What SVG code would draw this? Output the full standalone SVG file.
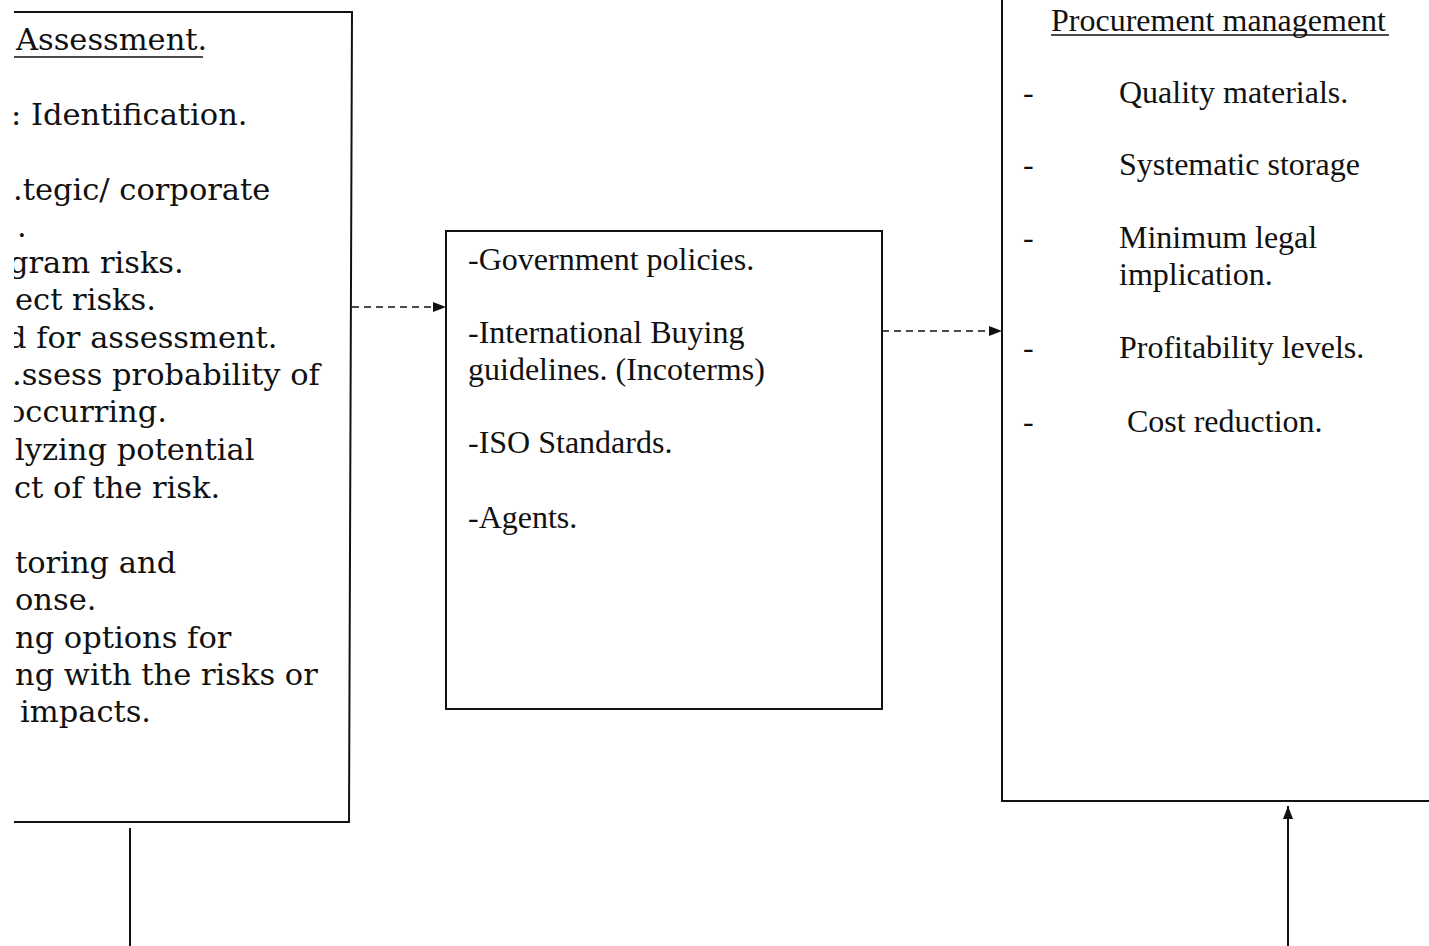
<svg xmlns="http://www.w3.org/2000/svg" width="1429" height="946" viewBox="0 0 1429 946">
<style>
.box{fill:none;stroke:#111;stroke-width:2}
.lt{font-family:"DejaVu Serif","Liberation Serif",serif;font-size:30.5px;fill:#111}
.tt{font-family:"Liberation Serif","Times New Roman",serif;font-size:32px;fill:#111}
.conn{fill:none;stroke:#111;stroke-width:2}
.dash{stroke-width:1.6;stroke-dasharray:7 5}
</style>
<defs>
<marker id="ah" viewBox="0 0 13 10" refX="13" refY="5" markerWidth="13" markerHeight="10" markerUnits="userSpaceOnUse" orient="auto">
<path d="M0,0 L13,5 L0,10 Z" fill="#111"/>
</marker>
<clipPath id="clipL"><rect x="14" y="0" width="340" height="830"/></clipPath>
</defs>
<rect width="1429" height="946" fill="#fff"/>
<g id="risk-assessment">
<path class="box" d="M14,12 H352 L349,822 H14"/>
<g clip-path="url(#clipL)" class="lt">
<text x="16" y="50">Assessment.</text>
<line x1="14" y1="57" x2="203" y2="57" stroke="#111" stroke-width="1.5"/>
<text x="11" y="125">: Identification.</text>
<text x="13" y="200">.tegic/ corporate</text>
<text x="17" y="237">.</text>
<text x="9" y="273">gram risks.</text>
<text x="15" y="310">ect risks.</text>
<text x="7" y="348">d for assessment.</text>
<text x="12" y="385">.ssess probability of</text>
<text x="7" y="422">occurring.</text>
<text x="15" y="460">lyzing potential</text>
<text x="14" y="498">ct of the risk.</text>
<text x="15" y="573">toring and</text>
<text x="15" y="610">onse.</text>
<text x="15" y="648">ng options for</text>
<text x="15" y="685">ng with the risks or</text>
<text x="20" y="722">impacts.</text>
</g>
</g>
<g id="external-factors">
<rect class="box" x="446" y="231" width="436" height="478"/>
<g class="tt">
<text x="468" y="270">-Government policies.</text>
<text x="468" y="343">-International Buying</text>
<text x="468" y="380">guidelines. (Incoterms)</text>
<text x="468" y="453">-ISO Standards.</text>
<text x="468" y="528">-Agents.</text>
</g>
</g>
<g id="procurement-management">
<path class="box" d="M1002,-5 V801 H1432"/>
<g class="tt">
<text x="1051" y="31">Procurement management</text>
<line x1="1051" y1="35" x2="1389" y2="35" stroke="#111" stroke-width="1.5"/>
<text x="1023" y="103">-</text><text x="1119" y="103">Quality materials.</text>
<text x="1023" y="175">-</text><text x="1119" y="175">Systematic storage</text>
<text x="1023" y="248">-</text><text x="1119" y="248">Minimum legal</text>
<text x="1119" y="285">implication.</text>
<text x="1023" y="358">-</text><text x="1119" y="358">Profitability levels.</text>
<text x="1023" y="432">-</text><text x="1127" y="432">Cost reduction.</text>
</g>
</g>
<g id="connectors">
<line class="conn dash" x1="352" y1="307" x2="446" y2="307" marker-end="url(#ah)"/>
<line class="conn dash" x1="882" y1="331" x2="1002" y2="331" marker-end="url(#ah)"/>
<line class="conn" x1="130" y1="828" x2="130" y2="946"/>
<line class="conn" x1="1288" y1="946" x2="1288" y2="806" marker-end="url(#ah)"/>
</g>
</svg>
